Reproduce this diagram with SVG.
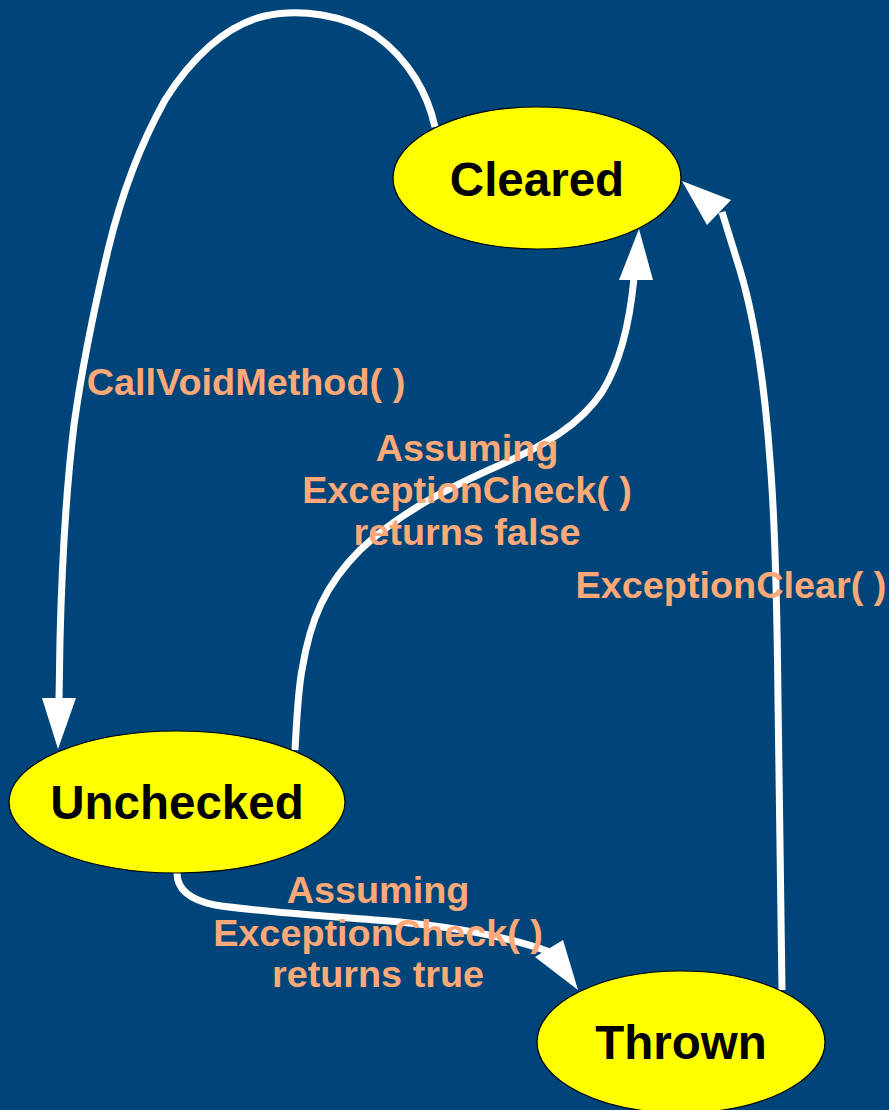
<svg xmlns="http://www.w3.org/2000/svg" width="889" height="1110" viewBox="0 0 889 1110">
<style>
.edge{fill:none;stroke:#ffffff;stroke-width:7;stroke-linejoin:round}
.head{fill:#ffffff;stroke:none}
.node{fill:#ffff00;stroke:#000000;stroke-width:1.2}
.ntext{font-family:"Liberation Sans",Arial,sans-serif;font-weight:bold;font-size:47.5px;fill:#000000;text-anchor:middle}
.ltext{font-family:"Liberation Sans",Arial,sans-serif;font-weight:bold;font-size:37.8px;fill:#ffa878;text-anchor:middle}
</style>
<rect x="0" y="0" width="889" height="1110" fill="#004579"/>
<g id="connectors">
  <g id="e-call">
    <path class="edge" d="M435,127 C428,95 410,60 375,35 C345,15 300,8 265,16 C225,25 190,60 165,100 C140,145 120,200 108,250 C95,305 83,360 74,425 C66,490 62,560 60,640 L59,700"/>
    <polygon class="head" points="42,698 76,698 58,749"/>
  </g>
  <g id="e-false">
    <path class="edge" d="M295,750 C297,715 298,690 302,670 C310,620 325,585 360,550 C400,512 450,487 500,465 C545,445 580,425 602,392 C622,360 630,320 634,278"/>
    <polygon class="head" points="619,280 653,280 639,229"/>
  </g>
  <g id="e-clear">
    <path class="edge" d="M782,990 C780,900 779,800 778,700 C777,600 775,520 770,460 C765,390 755,320 740,270 L722,212"/>
    <polygon class="head" points="707,225 731,200 682,181"/>
  </g>
  <g id="e-true">
    <path class="edge" d="M177,873 C177,890 190,900 215,905 C260,912 330,916 400,922 C460,928 510,937 550,952"/>
    <polygon class="head" points="535,957 563,940 578,990"/>
  </g>
</g>
<g id="node-cleared">
  <ellipse class="node" cx="537" cy="178" rx="144" ry="71"/>
  <text class="ntext" x="537" y="196">Cleared</text>
</g>
<g id="node-unchecked">
  <ellipse class="node" cx="177" cy="802" rx="168" ry="71"/>
  <text class="ntext" x="177" y="819">Unchecked</text>
</g>
<g id="node-thrown">
  <ellipse class="node" cx="681" cy="1042" rx="144" ry="71"/>
  <text class="ntext" x="681" y="1059">Thrown</text>
</g>
<g id="labels">
  <text class="ltext" x="246" y="395">CallVoidMethod( )</text>
  <text class="ltext" x="467" y="461">Assuming</text>
  <text class="ltext" x="467" y="503">ExceptionCheck( )</text>
  <text class="ltext" x="467" y="545">returns false</text>
  <text class="ltext" x="731" y="598">ExceptionClear( )</text>
  <text class="ltext" x="378" y="903">Assuming</text>
  <text class="ltext" x="378" y="946">ExceptionCheck( )</text>
  <text class="ltext" x="378" y="987">returns true</text>
</g>
</svg>
